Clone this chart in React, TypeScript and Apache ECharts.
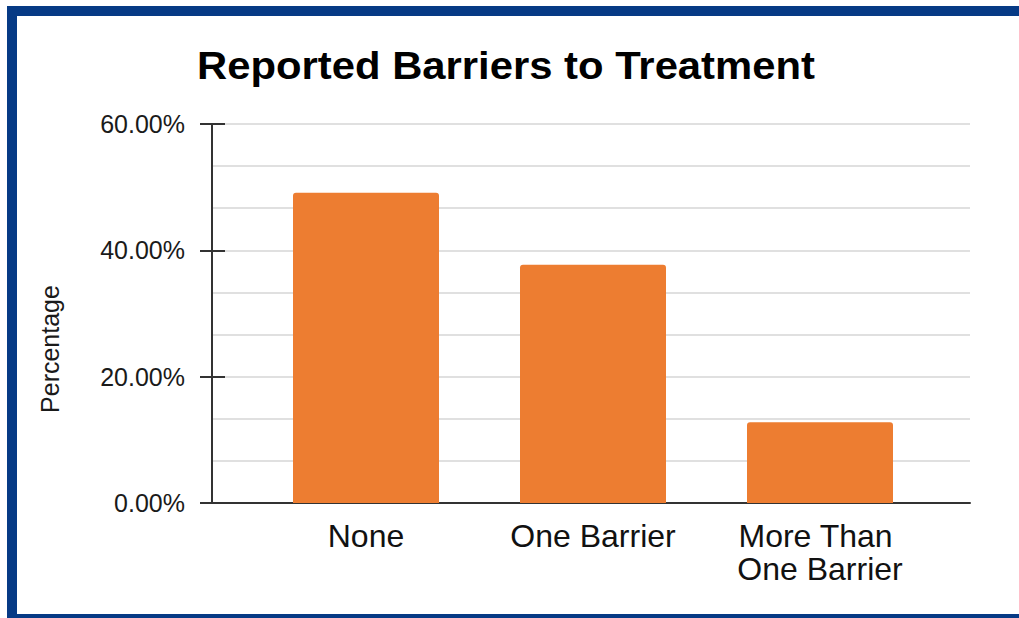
import React, { useEffect, useRef } from "react";
import * as echarts from "echarts";

// Chart data
const chartTitle = "Reported Barriers to Treatment";
const categories: string[] = ["None", "One Barrier", "More Than One Barrier"];
const percentages: number[] = [49.1, 37.7, 12.8];
const yTicks: number[] = [0, 20, 40, 60];

const FONT = '"Liberation Sans", Arial, Helvetica, sans-serif';
const BAR_COLOR = "#ED7D31";
const FRAME_BLUE = "#063a85";
const AXIS_DARK = "#333333";
const GRID_GRAY = "#e0e0e0";

export default function App() {
  const ref = useRef<HTMLDivElement>(null);

  useEffect(() => {
    if (!ref.current) return;
    const chart = echarts.init(ref.current, null, { renderer: "svg" });

    const yMin = yTicks[0];
    const yMax = yTicks[yTicks.length - 1];
    const yStep = yTicks[1] - yTicks[0];

    const option: echarts.EChartsOption = {
      animation: false,
      backgroundColor: "#ffffff",
      grid: [
        // background frame: gridlines and value axis
        { left: 212, right: 49, top: 124, bottom: 115 },
        // bars and category labels
        { left: 252.5, right: 85.5, top: 124, bottom: 115 },
      ],
      xAxis: [
        {
          gridIndex: 0,
          type: "value",
          min: 0,
          max: 1,
          axisLine: { show: true, lineStyle: { color: AXIS_DARK, width: 2 } },
          axisTick: { show: false },
          axisLabel: { show: false },
          splitLine: { show: false },
        },
        {
          gridIndex: 1,
          type: "category",
          data: categories,
          axisLine: { show: false },
          axisTick: { show: false },
          axisLabel: {
            interval: 0,
            margin: 16,
            fontFamily: FONT,
            fontSize: 32,
            lineHeight: 33,
            color: "#111111",
            width: 200,
            overflow: "break",
          },
        },
      ],
      yAxis: [
        {
          gridIndex: 0,
          type: "value",
          min: yMin,
          max: yMax,
          interval: yStep,
          axisLine: { show: true, lineStyle: { color: AXIS_DARK, width: 2 } },
          axisTick: { show: true, length: 12, lineStyle: { color: AXIS_DARK, width: 2 } },
          axisLabel: {
            margin: 27,
            fontFamily: FONT,
            fontSize: 25,
            color: "#1a1a1a",
            formatter: (v: number) => v.toFixed(2) + "%",
          },
          splitLine: { show: true, lineStyle: { color: GRID_GRAY, width: 2 } },
          minorTick: { show: false, splitNumber: 3 },
          minorSplitLine: { show: true, lineStyle: { color: GRID_GRAY, width: 2 } },
        },
        {
          // inner half of the crossing tick marks
          gridIndex: 0,
          type: "value",
          position: "left",
          min: yMin,
          max: yMax,
          interval: yStep,
          axisLine: { show: false },
          axisTick: { show: true, inside: true, length: 13, lineStyle: { color: AXIS_DARK, width: 2 } },
          axisLabel: { show: false },
          splitLine: { show: false },
        },
        {
          gridIndex: 1,
          type: "value",
          min: yMin,
          max: yMax,
          show: false,
        },
      ],
      series: [
        {
          type: "bar",
          xAxisIndex: 1,
          yAxisIndex: 2,
          data: percentages,
          barWidth: 146,
          itemStyle: { color: BAR_COLOR, borderRadius: [3, 3, 0, 0] },
          z: 3,
        },
      ],
      graphic: [
        {
          // chart title, set slightly wide
          type: "text",
          x: 506,
          y: 65.5,
          scaleX: 1.1,
          style: {
            text: chartTitle,
            fontFamily: FONT,
            fontSize: 38,
            fontWeight: "bold",
            fill: "#000000",
            align: "center",
            verticalAlign: "middle",
          },
        },
        {
          type: "text",
          x: 50,
          y: 349,
          rotation: Math.PI / 2,
          style: {
            text: "Percentage",
            fontFamily: FONT,
            fontSize: 25,
            fill: "#1a1a1a",
            align: "center",
            verticalAlign: "middle",
          },
        },
        // blue frame (left, top, bottom edges)
        { type: "rect", shape: { x: 7, y: 6, width: 10, height: 612 }, style: { fill: FRAME_BLUE } },
        { type: "rect", shape: { x: 7, y: 6, width: 1012, height: 10 }, style: { fill: FRAME_BLUE } },
        { type: "rect", shape: { x: 7, y: 614, width: 1012, height: 4 }, style: { fill: FRAME_BLUE } },
      ],
    };

    chart.setOption(option);
    return () => chart.dispose();
  }, []);

  return (
    <div
      ref={ref}
      style={{ position: "fixed", left: 0, top: 0, width: 1019, height: 618 }}
    />
  );
}
